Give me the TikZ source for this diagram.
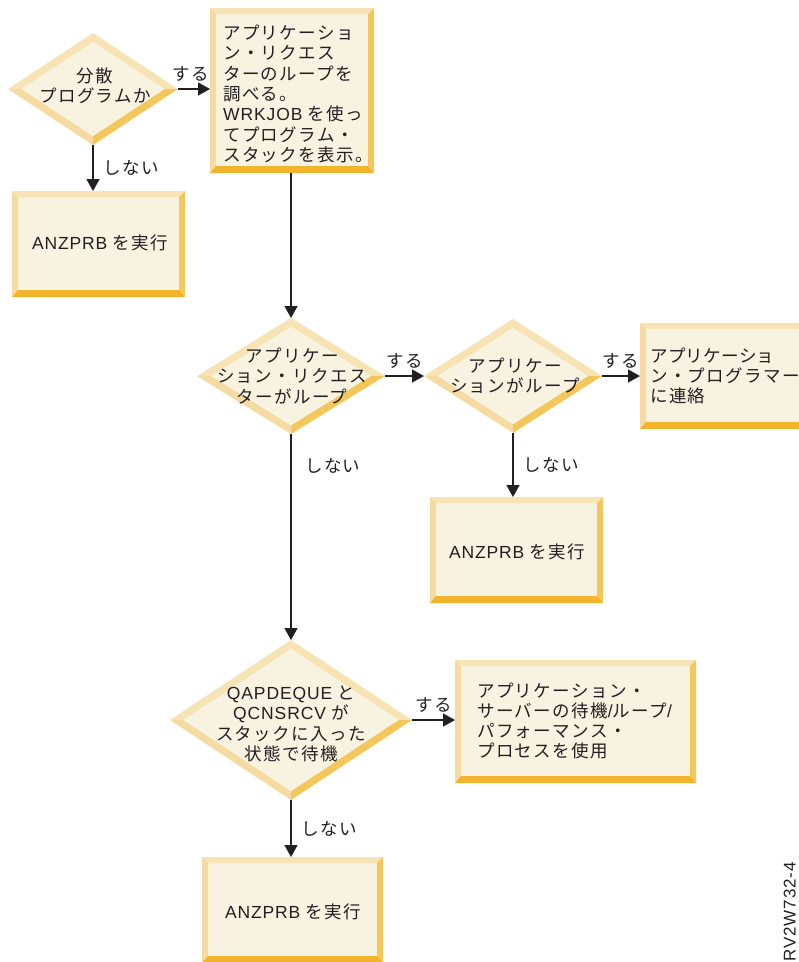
\documentclass[tikz,border=0pt]{standalone}
\usepackage{fontspec}
\setmainfont{Noto Sans CJK JP}[LetterSpace=8]
\newfontfamily\lat{Liberation Sans}[LetterSpace=5, Scale=1.0]
\usetikzlibrary{arrows.meta,calc,shapes.geometric}
\definecolor{bvtop}{HTML}{F7E3B4}
\definecolor{bvleft}{HTML}{F5DBA2}
\definecolor{bvright}{HTML}{F4C75C}
\definecolor{bvbot}{HTML}{F2B42C}
\definecolor{bvfill}{HTML}{F8F2E0}
\definecolor{ink}{HTML}{231F20}
\tikzset{
  txt/.style={inner sep=0pt, text=ink, font=\fontsize{17.5}{20.3}\selectfont},
  lbl/.style={inner sep=0pt, text=ink, font=\fontsize{17.5}{20}\selectfont},
  hidden/.style={inner sep=0pt, outer sep=0pt},
  conn/.style={draw=ink, line width=1.5pt},
  arr/.style={conn, -{Triangle[length=12pt,width=13pt]}},
}
\newcommand\bevbox[5]{%
  \fill[bvfill] (#2,#3) rectangle (#4,#5);
  \fill[bvtop] (#2,#3) -- (#4,#3) -- (#4-6,#3+6) -- (#2+6,#3+6) -- cycle;
  \fill[bvleft] (#2,#3) -- (#2+6,#3+6) -- (#2+6,#5-7) -- (#2,#5) -- cycle;
  \fill[bvright] (#4,#3) -- (#4,#5) -- (#4-6,#5-7) -- (#4-6,#3+6) -- cycle;
  \fill[bvbot] (#2,#5) -- (#2+6,#5-7) -- (#4-6,#5-7) -- (#4,#5) -- cycle;
  \node[hidden, rectangle, minimum width={#4-#2}, minimum height={#5-#3}] (#1) at ({(#2+#4)/2},{(#3+#5)/2}) {};
}
\newcommand\bevdiamond[5]{%
  \pgfmathsetmacro\dk{1-7.5*veclen(#4,#5)/(#4)/(#5)}%
  \pgfmathsetmacro\wi{\dk*#4}%
  \pgfmathsetmacro\hi{\dk*#5}%
  \fill[bvtop] (#2-#4,#3) -- (#2,#3-#5) -- (#2,#3-\hi) -- (#2-\wi,#3) -- cycle;
  \fill[bvtop] (#2,#3-#5) -- (#2+#4,#3) -- (#2+\wi,#3) -- (#2,#3-\hi) -- cycle;
  \fill[bvright] (#2+#4,#3) -- (#2,#3+#5) -- (#2,#3+\hi) -- (#2+\wi,#3) -- cycle;
  \fill[bvleft] (#2,#3+#5) -- (#2-#4,#3) -- (#2-\wi,#3) -- (#2,#3+\hi) -- cycle;
  \fill[bvfill] (#2-\wi,#3) -- (#2,#3-\hi) -- (#2+\wi,#3) -- (#2,#3+\hi) -- cycle;
  \node[hidden, diamond, minimum width={2*#4}, minimum height={2*#5}] (#1) at (#2,#3) {};
}
\begin{document}
\begin{tikzpicture}[x=1pt,y=-1pt]
\useasboundingbox (0,0) rectangle (799,962);
\clip (0,0) rectangle (799,962);
% shapes
\bevdiamond{d1}{93}{89}{85}{56}
\bevbox{ba}{12}{191}{185}{297}
\bevbox{bb}{210}{8}{374}{173}
\bevdiamond{d2}{291}{376}{94}{58}
\bevdiamond{d3}{513}{376}{89}{57}
\bevbox{bc}{640}{323}{812}{429}
\bevbox{bd}{430}{497}{603}{603}
\bevdiamond{d4}{291}{720}{121}{80}
\bevbox{be}{455}{660}{696}{783}
\bevbox{bf}{202}{857}{383}{963}
% texts
\node[txt, align=center] (t1) at (95,86) {分散\\プログラムか};
\node[txt] (ta) at (100,243) {{\lat ANZPRB} を実行};
\node[txt, align=left, anchor=west] (tb) at (223,94) {アプリケーショ\\ン・リクエス\\ターのループを\\調べる。\\{\lat WRKJOB} を使っ\\てプログラム・\\スタックを表示。};
\node[txt, align=center] (t2) at (292,376) {アプリケー\\ション・リクエス\\ターがループ};
\node[txt, align=center] (t3) at (515,376) {アプリケー\\ションがループ};
\node[txt, align=left, anchor=west] (tc) at (650,376) {\addfontfeature{LetterSpace=2}アプリケーショ\\ン・プログラマー\\に連絡};
\node[txt] (td) at (517,552) {{\lat ANZPRB} を実行};
\node[txt, align=center] (t4) at (291,724) {{\lat QAPDEQUE} と\\{\lat QCNSRCV} が\\スタックに入った\\状態で待機};
\node[txt, align=left, anchor=west] (te) at (477,721) {アプリケーション・\\サーバーの待機{\lat /}ループ{\lat /}\\パフォーマンス・\\プロセスを使用};
\node[txt] (tf) at (293,912) {{\lat ANZPRB} を実行};
% connectors
\draw[arr] (d1.east) -- (d1.east -| bb.west) node[lbl, pos=0.4, above=7pt] (l1) {する};
\draw[arr] (d1.south) -- (d1.south |- ba.north) node[lbl, midway, right=10pt] (l2) {しない};
\draw[arr] (bb.south -| d2.north) -- (d2.north);
\draw[arr] (d2.east) -- (d3.west) node[lbl, midway, above=7pt] (l3) {する};
\draw[arr] (d3.east) -- (d3.east -| bc.west) node[lbl, midway, above=7pt] (l4) {する};
\draw[arr] (d3.south) -- (d3.south |- bd.north) node[lbl, midway, right=10pt] (l5) {しない};
\draw[arr] (d2.south) -- (d2.south |- d4.north);
\node[lbl, anchor=west] (l6) at (305,466) {しない};
\draw[arr] (d4.east) -- (d4.east -| be.west) node[lbl, midway, above=7pt] (l7) {する};
\draw[arr] (d4.south) -- (d4.south |- bf.north) node[lbl, midway, right=10pt] (l8) {しない};
% figure id
\node[inner sep=0pt, text=ink, font=\lat\fontsize{17}{17}\selectfont, rotate=90, anchor=south east] (fid) at (796,862) {RV2W732-4};
\end{tikzpicture}
\end{document}
